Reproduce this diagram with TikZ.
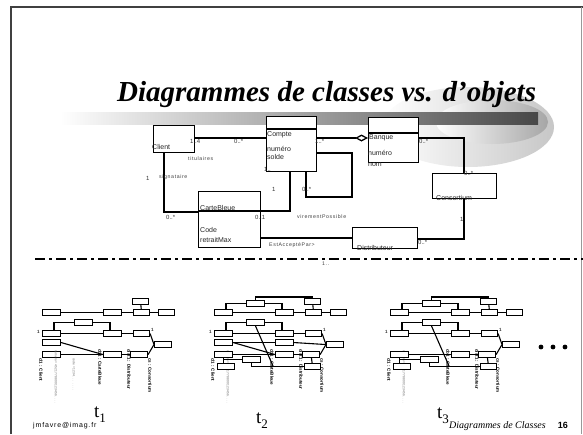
\documentclass[tikz,border=0pt]{standalone}
\usepackage{fontspec}
\setmainfont{Liberation Serif}
\setsansfont{Liberation Sans}
\newfontfamily\labelfont[LetterSpace=12]{Liberation Sans}
\usetikzlibrary{arrows.meta,positioning,calc,shapes.geometric}

\begin{document}
\begin{tikzpicture}[x=1pt,y=-1pt]
\tikzstyle{classbox} = [draw, line width=1.3pt, fill=white, inner sep=0pt, anchor=north west]
\tikzstyle{classtext} = [font=\sffamily\fontsize{7}{7}\selectfont, inner sep=0pt, anchor=base west, text=black!85]
\tikzstyle{multtext} = [font=\sffamily\fontsize{6}{6}\selectfont, inner sep=0pt, anchor=base west, text=black!80]
\tikzstyle{assoctext} = [font=\labelfont\fontsize{5.2}{5.2}\selectfont, inner sep=0pt, anchor=base west, text=black!75]
\tikzstyle{line} = [draw, line width=1.3pt]
\tikzstyle{objbox} = [draw, line width=1.1pt, fill=white, inner sep=0pt, anchor=north west, minimum height=6, minimum width=18]
\tikzstyle{objline} = [draw, line width=1.1pt]
\tikzstyle{slottext} = [font=\sffamily\bfseries\fontsize{4.5}{4.5}\selectfont, inner sep=0pt, rotate=-90, anchor=west]
\tikzstyle{slotlight} = [font=\sffamily\fontsize{3.2}{3.2}\selectfont, inner sep=0pt, rotate=-90, anchor=west, text=black!60]

\useasboundingbox (0,0) rectangle (583,434);

% Frame
\draw[line width=1.8pt, black!75] (11,434) -- (11,7) -- (583,7);
\draw[line width=0.6pt, black!40] (581,7) -- (581,434);

% Swoosh behind the title
\shade[left color=white, right color=black!22] (468,127) ellipse [x radius=86, y radius=40];
\shade[left color=white, right color=black!35] (492,122) ellipse [x radius=56, y radius=22];
\shade[left color=white, right color=black!72] (60,112) rectangle (538,124);

\node[font=\bfseries\itshape\fontsize{29}{29}\selectfont, anchor=base west, inner sep=0pt] (title) at (117,101) {Diagrammes de classes vs. d’objets};

% Class diagram
\node[classbox, minimum width=41, minimum height=27] (client) at (153,125) {};
\node[classbox, minimum width=50, minimum height=55] (compte) at (266,116) {};
\node[classbox, minimum width=62, minimum height=56] (carte) at (198,191) {};
\node[classbox, minimum width=50, minimum height=45] (banque) at (368,117) {};
\node[classbox, minimum width=64, minimum height=25] (consortium) at (432,173) {};
\node[classbox, minimum width=65, minimum height=21] (distrib) at (352,227) {};

\draw[line] ($(compte.north west)+(0,13)$) -- ($(compte.north east)+(0,13)$);
\draw[line] ($(carte.north west)+(0,20)$) -- ($(carte.north east)+(0,20)$);
\draw[line] ($(banque.north west)+(0,16)$) -- ($(banque.north east)+(0,16)$);

\node[classtext] (clientname) at (152,149) {Client};
\node[classtext] (comptename) at (267,136) {Compte};
\node[classtext] (comptenum) at (267,151) {numéro};
\node[classtext] (comptesolde) at (267,159) {solde};
\node[classtext] (cartename) at (200,210) {CarteBleue};
\node[classtext] (cartecode) at (200,232) {Code};
\node[classtext] (carteretrait) at (200,242) {retraitMax};
\node[classtext] (banquename) at (369,139) {Banque};
\node[classtext] (banquenum) at (368,155) {numéro};
\node[classtext] (banquenom) at (368,166) {nom};
\node[classtext] (consname) at (436,200) {Consortium};
\node[classtext] (distname) at (357,250) {Distributeur};

% Connections
\coordinate (titY) at (230,138);
\draw[line] (client.east |- titY) -- (compte.west |- titY);
\coordinate (aggY) at (340,138);
\draw[line, -{Diamond[open,length=13pt,width=7pt]}] (compte.east |- aggY) -- (banque.west |- aggY);
\coordinate (consX) at (464,138);
\draw[line] (banque.east |- consX) -- (consX) -- (consortium.north -| consX);
\coordinate (consB) at (464,239);
\draw[line] (consortium.south -| consB) -- (consB) -- (distrib.east |- consB);
\coordinate (estY) at (300,238);
\draw[line] (carte.east |- estY) -- (distrib.west |- estY);
\coordinate (sigB) at (164,212);
\draw[line] (client.south -| sigB) -- (sigB) -- (carte.west |- sigB);
\coordinate (cbC) at (290,211);
\draw[line] (carte.east |- cbC) -- (cbC) -- (compte.south -| cbC);
\coordinate (virA) at (306,197);
\coordinate (virB) at (352,153);
\draw[line] (compte.south -| virA) -- (virA) -- (virB |- virA) -- (virB) -- (compte.east |- virB);

\node[multtext] (m1) at (190,143) {1..4};
\node[multtext] (m2) at (234,143) {0..*};
\node[multtext] (m3) at (315,143) {1..*};
\node[multtext] (m4) at (264,171) {1..};
\node[multtext] (m5) at (146,180) {1};
\node[multtext] (m6) at (166,219) {0..*};
\node[multtext] (m7) at (255,219) {0..1};
\node[multtext] (m8) at (272,191) {1};
\node[multtext] (m9) at (302,191) {0..*};
\node[multtext] (m10) at (419,143) {0..*};
\node[multtext] (m11) at (464,175) {0..*};
\node[multtext] (m12) at (460,221) {1};
\node[multtext] (m13) at (418,244) {0..*};
\node[assoctext] (titulaires) at (188,160) {titulaires};
\node[assoctext] (signataire) at (159,178) {signataire};
\node[assoctext] (virement) at (297,218) {virementPossible};
\node[assoctext] (accepte) at (269,246) {EstAcceptéPar>};

% Separator
\coordinate (sepL) at (35,259);
\coordinate (sepR) at (583,259);
\draw[line width=2pt, dash pattern=on 10pt off 4pt on 3pt off 4pt] (sepL) -- (sepR);
\node[assoctext] (sepmark) at (322,265) {1..};

% Object diagrams
\foreach \sx in {42,214,390} {
\begin{scope}[shift={(\sx,309)}]
\node[objbox] (r1a) at (0,0) {};
\node[objbox] (r1b) at (61,0) {};
\node[objbox, minimum width=16] (r1c) at (91,0) {};
\node[objbox, minimum width=16] (r1d) at (116,0) {};
\node[objbox, minimum width=16] (top) at (90,-11) {};
\node[objbox] (r2k) at (32,10) {};
\node[objbox] (r2a) at (0,21) {};
\node[objbox] (r2b) at (61,21) {};
\node[objbox, minimum width=16] (r2c) at (91,21) {};
\node[objbox, minimum width=17] (rd) at (112,32) {};
\node[objbox] (r4a) at (0,42) {};
\node[objbox] (r4b) at (61,42) {};
\node[objbox, minimum width=17] (r4c) at (88,42) {};
\draw[objline] (r1a) -- (r1b) -- (r1c) -- (r1d);
\draw[objline] (top) -- (r1c);
\draw[objline] ($(r2a.north west)+(12,0)$) |- (r2k.west);
\draw[objline] (r2k.east) -| ($(r2b.north west)+(7,0)$);
\draw[objline] (r2a) -- (r2b) -- (r2c);
\draw[objline] (r2c.east) -- (rd.west);
\draw[objline] (r4c.east) -- (rd.west);
\draw[objline] (r4a) -- (r4b) -- (r4c);
\node[slottext] (s1) at (-1,49) {cl1 : Client};
\node[slotlight] (s2) at (14,41) {numero = 4521 7788 0012 3456 . . . .};
\node[slottext] (s3) at (58,40) {cb1 : CarteBleue};
\node[slottext] (s4) at (87,40) {dist1 : Distributeur};
\node[slottext] (s5) at (108,49) {cs : Consortium};
\node[multtext, font=\sffamily\bfseries\fontsize{4.5}{4.5}\selectfont] (k1) at (-5,24) {1};
\node[multtext, font=\sffamily\bfseries\fontsize{4.5}{4.5}\selectfont] (k2) at (109,22) {1};
\end{scope}
}

% t1 only
\begin{scope}[shift={(42,309)}]
\node[objbox] (r3a) at (0,30) {};
\node[objbox] (r4b) at (61,42) {};
\draw[objline] (r3a.east) -- (r4b.west);
\node[slotlight] (s6) at (32,49) {code = 1234 . . . . . . .};
\end{scope}

% t2 and t3
\foreach \sx/\rx in {214/28,390/30} {
\begin{scope}[shift={(\sx,309)}]
\node[objbox] (r1a) at (0,0) {};
\node[objbox] (r1b) at (61,0) {};
\node[objbox, minimum width=16] (top) at (90,-11) {};
\node[objbox] (r1k) at (32,-9) {};
\node[objbox] (r2k) at (32,10) {};
\node[objbox] (r4a) at (0,42) {};
\node[objbox, minimum width=17] (r4c) at (88,42) {};
\node[objbox] (r5) at (\rx,47) {};
\node[objbox, minimum width=17] (r6a) at (3,54) {};
\node[objbox, minimum width=16] (r6c) at (90,54) {};
\coordinate (d1) at (59,57);
\draw[objline] ($(r1a.north west)+(12,0)$) |- (r1k.west);
\draw[objline] (r1k.east) -| ($(r1b.north west)+(7,0)$);
\draw[objline] (r1k.north) -- ++(0,-3) -| (top.north);
\draw[objline] (r4a.south) |- (r5.west);
\draw[objline] (r4a.south) -- (r6a.north -| r4a.south);
\draw[objline] (r5.south) |- (r6c.west);
\draw[objline] (r4c) -- (r6c);
\draw[objline] (r2k.south) -- (d1);
\end{scope}
}

% t2 only
\begin{scope}[shift={(214,309)}]
\node[objbox] (r3a) at (0,30) {};
\node[objbox] (r3b) at (61,30) {};
\node[objbox] (r4b) at (61,42) {};
\node[objbox, minimum width=17] (rd) at (112,32) {};
\draw[objline] (r3a) -- (r3b);
\draw[objline] (r3b.east) -- (rd.west);
\draw[objline] (r3a.east) -- (r4b.west);
\end{scope}

\node[anchor=base west, inner sep=0pt, font=\fontsize{19}{19}\selectfont] (t1) at (94,417) {t\raisebox{-5pt}{\fontsize{13}{13}\selectfont 1}};
\node[anchor=base west, inner sep=0pt, font=\fontsize{19}{19}\selectfont] (t2) at (256,423) {t\raisebox{-5pt}{\fontsize{13}{13}\selectfont 2}};
\node[anchor=base west, inner sep=0pt, font=\fontsize{19}{19}\selectfont] (t3) at (437,418) {t\raisebox{-5pt}{\fontsize{13}{13}\selectfont 3}};

\foreach \bx in {541,553,565}
  \fill (\bx,347) circle (2.4);

% Footer
\node[font=\labelfont\fontsize{7}{7}\selectfont, anchor=base west, inner sep=0pt] (mail) at (33,427) {jmfavre@imag.fr};
\node[font=\itshape\fontsize{10}{10}\selectfont, anchor=base east, inner sep=0pt] (foot) at (546,428) {Diagrammes de Classes};
\node[font=\sffamily\bfseries\fontsize{9}{9}\selectfont, anchor=base east, inner sep=0pt] (page) at (568,428) {16};

\end{tikzpicture}
\end{document}
